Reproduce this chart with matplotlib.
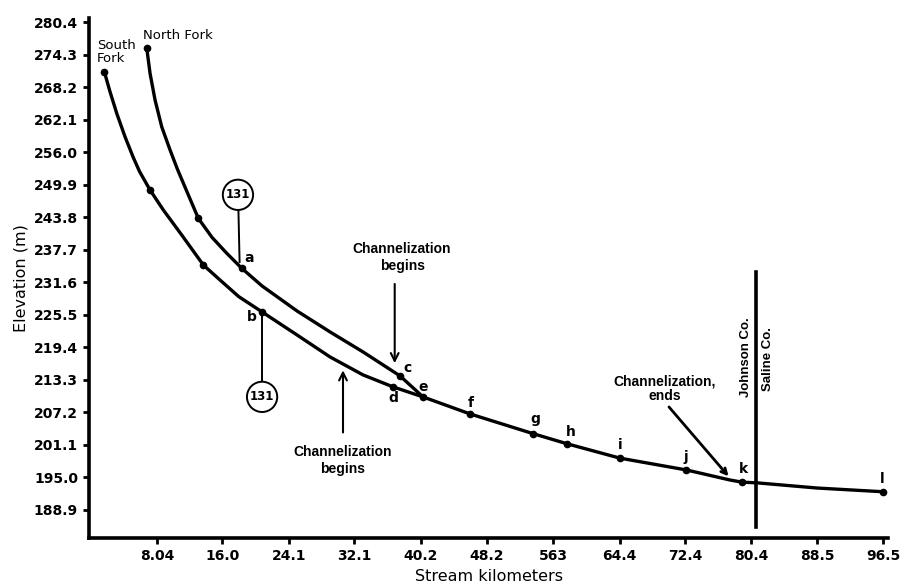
import matplotlib.pyplot as plt

# Stream profile (km, m)
north_km = [6.79, 7.19, 7.80, 8.61, 9.63, 10.50, 11.60, 13.07, 14.75, 16.54, 18.36, 20.84,
            25.10, 29.12, 33.14, 37.65, 40.45]
north_m = [275.47, 270.78, 265.78, 260.77, 256.40, 252.90, 248.90, 243.59, 240.00, 237.03,
           234.22, 230.90, 226.21, 222.28, 218.53, 214.03, 210.09]
south_km = [1.62, 2.28, 3.13, 4.14, 5.15, 5.90, 7.19, 8.81, 11.05, 13.68, 15.80, 18.00,
            20.84, 25.10, 29.12, 33.14, 36.80, 40.45]
south_m = [271.08, 267.50, 263.28, 258.89, 254.99, 252.40, 248.90, 245.15, 240.46, 234.84,
           231.90, 228.90, 226.03, 221.71, 217.59, 214.22, 211.97, 210.09]
main_km = [40.45, 46.18, 53.86, 58.00, 64.46, 72.50, 74.21, 77.86, 79.32, 81.15, 88.46, 96.50]
main_m = [210.09, 206.9, 203.2, 201.3, 198.6, 196.4, 195.8, 194.5, 194.1, 193.97, 193.0, 192.3]

# station dots
dot_km = [6.79, 13.07, 18.36, 37.65, 1.62, 7.19, 13.68, 20.84, 36.80,
          40.45, 46.18, 53.86, 58.00, 64.46, 72.50, 79.32, 96.50]
dot_m = [275.47, 243.59, 234.22, 214.03, 271.08, 248.90, 234.84, 226.03, 211.97,
         210.09, 206.9, 203.2, 201.3, 198.6, 196.4, 194.1, 192.3]

# station letters
letters = ['a', 'b', 'c', 'd', 'e', 'f', 'g', 'h', 'i', 'j', 'k', 'l']
letter_km = [19.25, 19.6, 38.6, 36.8, 40.45, 46.3, 54.1, 58.4, 64.5, 72.5, 79.45, 96.4]
letter_m = [236.2, 225.1, 215.6, 209.9, 212.0, 209.0, 205.9, 203.5, 201.1, 198.8, 196.6, 194.7]

x_ticks = [8.04, 16.0, 24.1, 32.1, 40.2, 48.2, 56.3, 64.4, 72.4, 80.4, 88.5, 96.5]
x_labels = ['8.04', '16.0', '24.1', '32.1', '40.2', '48.2', '563', '64.4', '72.4', '80.4', '88.5', '96.5']
y_ticks = [188.9, 195.0, 201.1, 207.2, 213.3, 219.4, 225.5, 231.6, 237.7, 243.8, 249.9, 256.0, 262.1, 268.2, 274.3, 280.4]

county_km = 81.0
narrow = ['Liberation Sans', 'DejaVu Sans']

fig = plt.figure(figsize=(9.09, 5.84), dpi=100)
ax = fig.add_axes([0.098, 0.079, 0.879, 0.890])

for xs, ys in [(north_km, north_m), (south_km, south_m), (main_km, main_m)]:
    ax.plot(xs, ys, color='black', lw=2.4, solid_capstyle='round', solid_joinstyle='round')
ax.plot(dot_km, dot_m, 'o', color='black', ms=4.5)

for lab, xk, ym in zip(letters, letter_km, letter_m):
    ax.text(xk, ym, lab, fontsize=10, fontweight='bold', ha='center', va='center')

# county boundary
ax.plot([county_km, county_km], [185.7, 233.5], color='black', lw=2.6)
ax.text(county_km - 1.2, 217.6, 'Johnson Co.', rotation=90, ha='center', va='center',
        fontsize=9.5, fontweight='bold', family=narrow)
ax.text(county_km + 1.5, 217.2, 'Saline Co.', rotation=90, ha='center', va='center',
        fontsize=9.5, fontweight='bold', family=narrow)

# fork names
ax.text(0.7, 274.8, 'South\nFork', fontsize=9.5, ha='left', va='center', linespacing=1.0)
ax.text(6.3, 277.8, 'North Fork', fontsize=9.5, ha='left', va='center')

# route 131 markers
ax.plot([17.95, 18.1], [245.6, 235.4], color='black', lw=1.4)
ax.text(17.9, 248.0, '131', fontsize=8.5, fontweight='bold', ha='center', va='center',
        bbox=dict(boxstyle='circle,pad=0.25', fc='white', ec='black', lw=1.4))
ax.plot([20.84, 20.84], [226.0, 212.6], color='black', lw=1.4)
ax.text(20.84, 210.1, '131', fontsize=8.5, fontweight='bold', ha='center', va='center',
        bbox=dict(boxstyle='circle,pad=0.25', fc='white', ec='black', lw=1.4))

# channelization notes
ax.annotate('', xy=(37.0, 215.9), xytext=(37.0, 231.8),
            arrowprops=dict(arrowstyle='->', color='black', lw=1.5, mutation_scale=14))
ax.text(37.9, 236.2, 'Channelization\nbegins', fontsize=10, fontweight='bold', ha='center',
        va='center', family=narrow, linespacing=1.3)
ax.annotate('', xy=(30.7, 215.6), xytext=(30.7, 202.9),
            arrowprops=dict(arrowstyle='->', color='black', lw=1.5, mutation_scale=14))
ax.text(30.7, 198.1, 'Channelization\nbegins', fontsize=10, fontweight='bold', ha='center',
        va='center', family=narrow, linespacing=1.3)
ax.annotate('', xy=(77.9, 194.8), xytext=(70.2, 208.6),
            arrowprops=dict(arrowstyle='->', color='black', lw=2.0, mutation_scale=10))
ax.text(69.9, 211.6, 'Channelization,\nends', fontsize=10, fontweight='bold', ha='center',
        va='center', family=narrow, linespacing=1.1)

ax.set_xlim(-0.24, 97.12)
ax.set_ylim(183.65, 281.15)
ax.set_xticks(x_ticks)
ax.set_xticklabels(x_labels)
ax.set_yticks(y_ticks)
ax.set_yticklabels(['%.1f' % v for v in y_ticks])
for lab in ax.get_xticklabels() + ax.get_yticklabels():
    lab.set_fontweight('bold')
    lab.set_fontsize(10)
ax.tick_params(direction='out', length=4, width=2, pad=4)

for side in ['top', 'right']:
    ax.spines[side].set_visible(False)
for side in ['left', 'bottom']:
    ax.spines[side].set_linewidth(2.6)

ax.set_xlabel('Stream kilometers', fontsize=11.5, labelpad=4)
ax.set_ylabel('Elevation (m)', fontsize=11.5, labelpad=4)

fig.savefig('out.png', dpi=100)
